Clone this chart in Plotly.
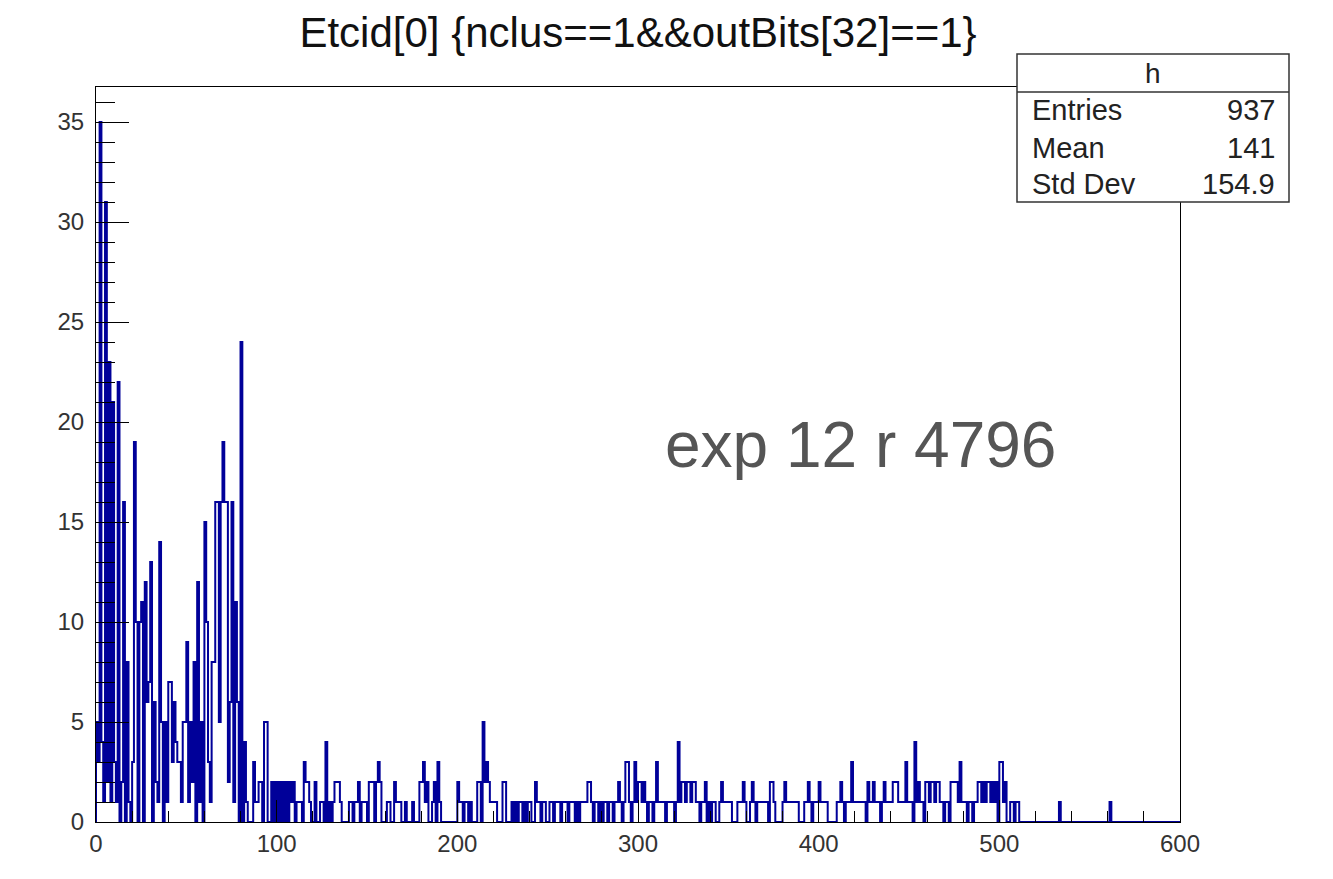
import plotly.graph_objects as go

# ---------------- data (bin width 1, x from 0 to 600) ----------------
counts_000_099 = [
    5, 3, 35, 4, 1, 31, 2, 23, 1, 21,
    3, 1, 22, 0, 2, 16, 0, 8, 1, 0,
    3, 19, 10, 0, 10, 11, 0, 12, 6, 7,
    13, 0, 6, 2, 1, 14, 5, 0, 5, 1,
    7, 7, 3, 6, 4, 3, 3, 1, 5, 5,
    9, 1, 5, 2, 8, 0, 12, 1, 5, 0,
    15, 10, 3, 1, 8, 8, 16, 16, 5, 16,
    19, 16, 16, 2, 6, 16, 1, 11, 6, 0,
    24, 0, 4, 1, 0, 0, 0, 3, 1, 1,
    2, 2, 0, 5, 5, 0, 0, 2, 0, 2,
]
counts_100_199 = [
    0, 2, 0, 2, 0, 2, 0, 2, 1, 2,
    0, 1, 1, 1, 0, 3, 2, 2, 1, 0,
    0, 2, 0, 0, 1, 1, 0, 4, 0, 1,
    0, 1, 2, 2, 2, 1, 0, 0, 0, 0,
    1, 1, 0, 1, 1, 2, 0, 1, 1, 1,
    0, 2, 2, 2, 0, 2, 3, 2, 0, 0,
    0, 1, 1, 0, 0, 2, 1, 1, 1, 0,
    0, 1, 0, 0, 0, 1, 0, 0, 0, 2,
    2, 3, 1, 2, 0, 0, 1, 2, 0, 3,
    1, 0, 0, 0, 0, 0, 0, 0, 0, 0,
]
counts_200_299 = [
    2, 1, 1, 0, 1, 1, 0, 1, 0, 0,
    0, 2, 2, 0, 5, 2, 3, 2, 1, 1,
    1, 1, 0, 0, 0, 2, 2, 0, 0, 0,
    1, 0, 1, 0, 1, 1, 0, 1, 0, 1,
    1, 0, 0, 2, 1, 1, 0, 1, 1, 0,
    0, 1, 1, 0, 1, 1, 1, 0, 1, 1,
    1, 0, 1, 1, 1, 0, 1, 0, 1, 1,
    1, 1, 2, 2, 1, 0, 1, 1, 0, 1,
    0, 1, 1, 0, 1, 1, 0, 1, 1, 2,
    1, 0, 1, 3, 3, 1, 0, 1, 3, 1,
]
counts_300_399 = [
    2, 2, 1, 2, 1, 0, 1, 1, 0, 1,
    3, 1, 1, 1, 1, 0, 1, 1, 1, 1,
    0, 1, 4, 1, 2, 2, 1, 2, 2, 1,
    2, 2, 1, 1, 0, 1, 1, 2, 0, 1,
    0, 1, 1, 0, 0, 1, 2, 1, 1, 1,
    1, 1, 0, 0, 0, 1, 1, 1, 2, 1,
    0, 0, 1, 2, 1, 0, 1, 1, 1, 1,
    1, 1, 0, 2, 2, 1, 0, 0, 0, 0,
    1, 2, 1, 1, 1, 1, 1, 1, 1, 0,
    0, 0, 1, 1, 2, 1, 0, 1, 1, 1,
]
counts_400_499 = [
    2, 1, 1, 1, 1, 0, 0, 0, 0, 0,
    1, 1, 2, 1, 0, 1, 1, 1, 3, 1,
    1, 1, 1, 1, 1, 1, 0, 2, 1, 1,
    2, 1, 1, 1, 0, 1, 2, 1, 1, 1,
    1, 2, 2, 2, 1, 1, 1, 1, 3, 1,
    1, 1, 0, 4, 1, 2, 1, 1, 0, 2,
    2, 1, 2, 2, 1, 2, 2, 1, 1, 0,
    1, 1, 0, 2, 2, 2, 2, 1, 3, 1,
    1, 1, 0, 1, 1, 0, 1, 1, 2, 2,
    1, 2, 1, 2, 2, 1, 2, 1, 2, 0,
]
counts_500_599 = [
    3, 3, 1, 2, 0, 0, 1, 1, 0, 1,
    1, 0, 0, 0, 0, 0, 0, 0, 0, 0,
    0, 0, 0, 0, 0, 0, 0, 0, 0, 0,
    0, 0, 0, 1, 0, 0, 0, 0, 0, 0,
    0, 0, 0, 0, 0, 0, 0, 0, 0, 0,
    0, 0, 0, 0, 0, 0, 0, 0, 0, 0,
    0, 1, 0, 0, 0, 0, 0, 0, 0, 0,
    0, 0, 0, 0, 0, 0, 0, 0, 0, 0,
    0, 0, 0, 0, 0, 0, 0, 0, 0, 0,
    0, 0, 0, 0, 0, 0, 0, 0, 0, 0,
]
x_min, x_max, bin_width = 0, 600, 1

title_text = "Etcid[0] {nclus==1&&outBits[32]==1}"
stats_name = "h"
stats_labels = ["Entries", "Mean", "Std Dev"]
stats_values = ["937", "141", "154.9"]
label_text = "exp 12 r 4796"
y_tickvals = [0, 5, 10, 15, 20, 25, 30, 35]
x_tickvals = [0, 100, 200, 300, 400, 500, 600]

# ---------------- build step outline ----------------
counts = (counts_000_099 + counts_100_199 + counts_200_299 +
          counts_300_399 + counts_400_499 + counts_500_599)
edges = [x_min + i * bin_width for i in range(len(counts) + 1)]
xs = [edges[0]] + edges[:-1] + [edges[-1], edges[-1]]
ys = [0] + counts + [counts[-1], 0]

W, H = 1333, 879
OFF = 8  # page body margin
L, R, T, B = 96, 1180, 87, 822  # frame in page pixels


def px(p):
    return (p - L) / (R - L)


def py(p):
    return (B - p) / (B - T)


FONT = "Liberation Sans, Arial, Helvetica, sans-serif"

fig = go.Figure()
fig.add_trace(go.Scatter(
    x=xs, y=ys, mode="lines", line=dict(color="#000099", width=2, shape="hv"),
    hoverinfo="skip", showlegend=False))

fig.update_layout(
    width=W, height=H,
    margin=dict(l=L - OFF, r=W + OFF - R, t=T - OFF, b=H + OFF - B, pad=0),
    paper_bgcolor="white", plot_bgcolor="white",
    font=dict(family=FONT, color="#222222"),
    title=dict(text=title_text, x=0.5, xref="paper", xanchor="center",
               y=1 - (32 - OFF) / H, yref="container", yanchor="middle",
               font=dict(size=42, family=FONT, color="#111111")),
    showlegend=False,
)
fig.update_xaxes(
    range=[x_min, x_max], tickvals=x_tickvals, ticks="inside", ticklen=22,
    tickwidth=1, tickcolor="black", showgrid=False, zeroline=False,
    showline=True, mirror=True, linecolor="black", linewidth=1,
    tickfont=dict(size=24, family=FONT, color="#333333"),
    minor=dict(dtick=20, ticks="inside", ticklen=11, tickcolor="black", showgrid=False),
)
fig.update_yaxes(
    range=[0, (B - T) / 20.0], tickvals=y_tickvals, ticks="inside", ticklen=33,
    tickwidth=1, tickcolor="black", showgrid=False, zeroline=False,
    showline=True, mirror=True, linecolor="black", linewidth=1,
    ticklabelstandoff=6,
    tickfont=dict(size=24, family=FONT, color="#333333"),
    minor=dict(dtick=1, ticks="inside", ticklen=19, tickcolor="black", showgrid=False),
)

# stats box
bx0, bx1, by0, by1, bmid = 1017, 1289, 54, 202, 92
fig.add_shape(type="rect", xref="paper", yref="paper",
              x0=px(bx0), x1=px(bx1), y0=py(by1), y1=py(by0),
              line=dict(color="#333333", width=1.5), fillcolor="white", layer="above")
fig.add_shape(type="line", xref="paper", yref="paper",
              x0=px(bx0), x1=px(bx1), y0=py(bmid), y1=py(bmid),
              line=dict(color="#333333", width=1.5), layer="above")
fig.add_annotation(text=stats_name, xref="paper", yref="paper",
                   x=px((bx0 + bx1) / 2), y=py(74), xanchor="center", yanchor="middle",
                   showarrow=False, font=dict(size=28, family=FONT, color="#222222"))
row_y = [110, 148, 184]
for lab, val, yy in zip(stats_labels, stats_values, row_y):
    fig.add_annotation(text=lab, xref="paper", yref="paper", x=px(1030), y=py(yy),
                       xanchor="left", yanchor="middle", showarrow=False,
                       font=dict(size=29, family=FONT, color="#222222"))
    fig.add_annotation(text=val, xref="paper", yref="paper", x=px(1277), y=py(yy),
                       xanchor="right", yanchor="middle", showarrow=False,
                       font=dict(size=29, family=FONT, color="#222222"))

fig.add_annotation(text=label_text, xref="paper", yref="paper",
                   x=px(860), y=py(445), xanchor="center", yanchor="middle",
                   showarrow=False, font=dict(size=64, family=FONT, color="#555555"))

fig.write_html("out.html")
